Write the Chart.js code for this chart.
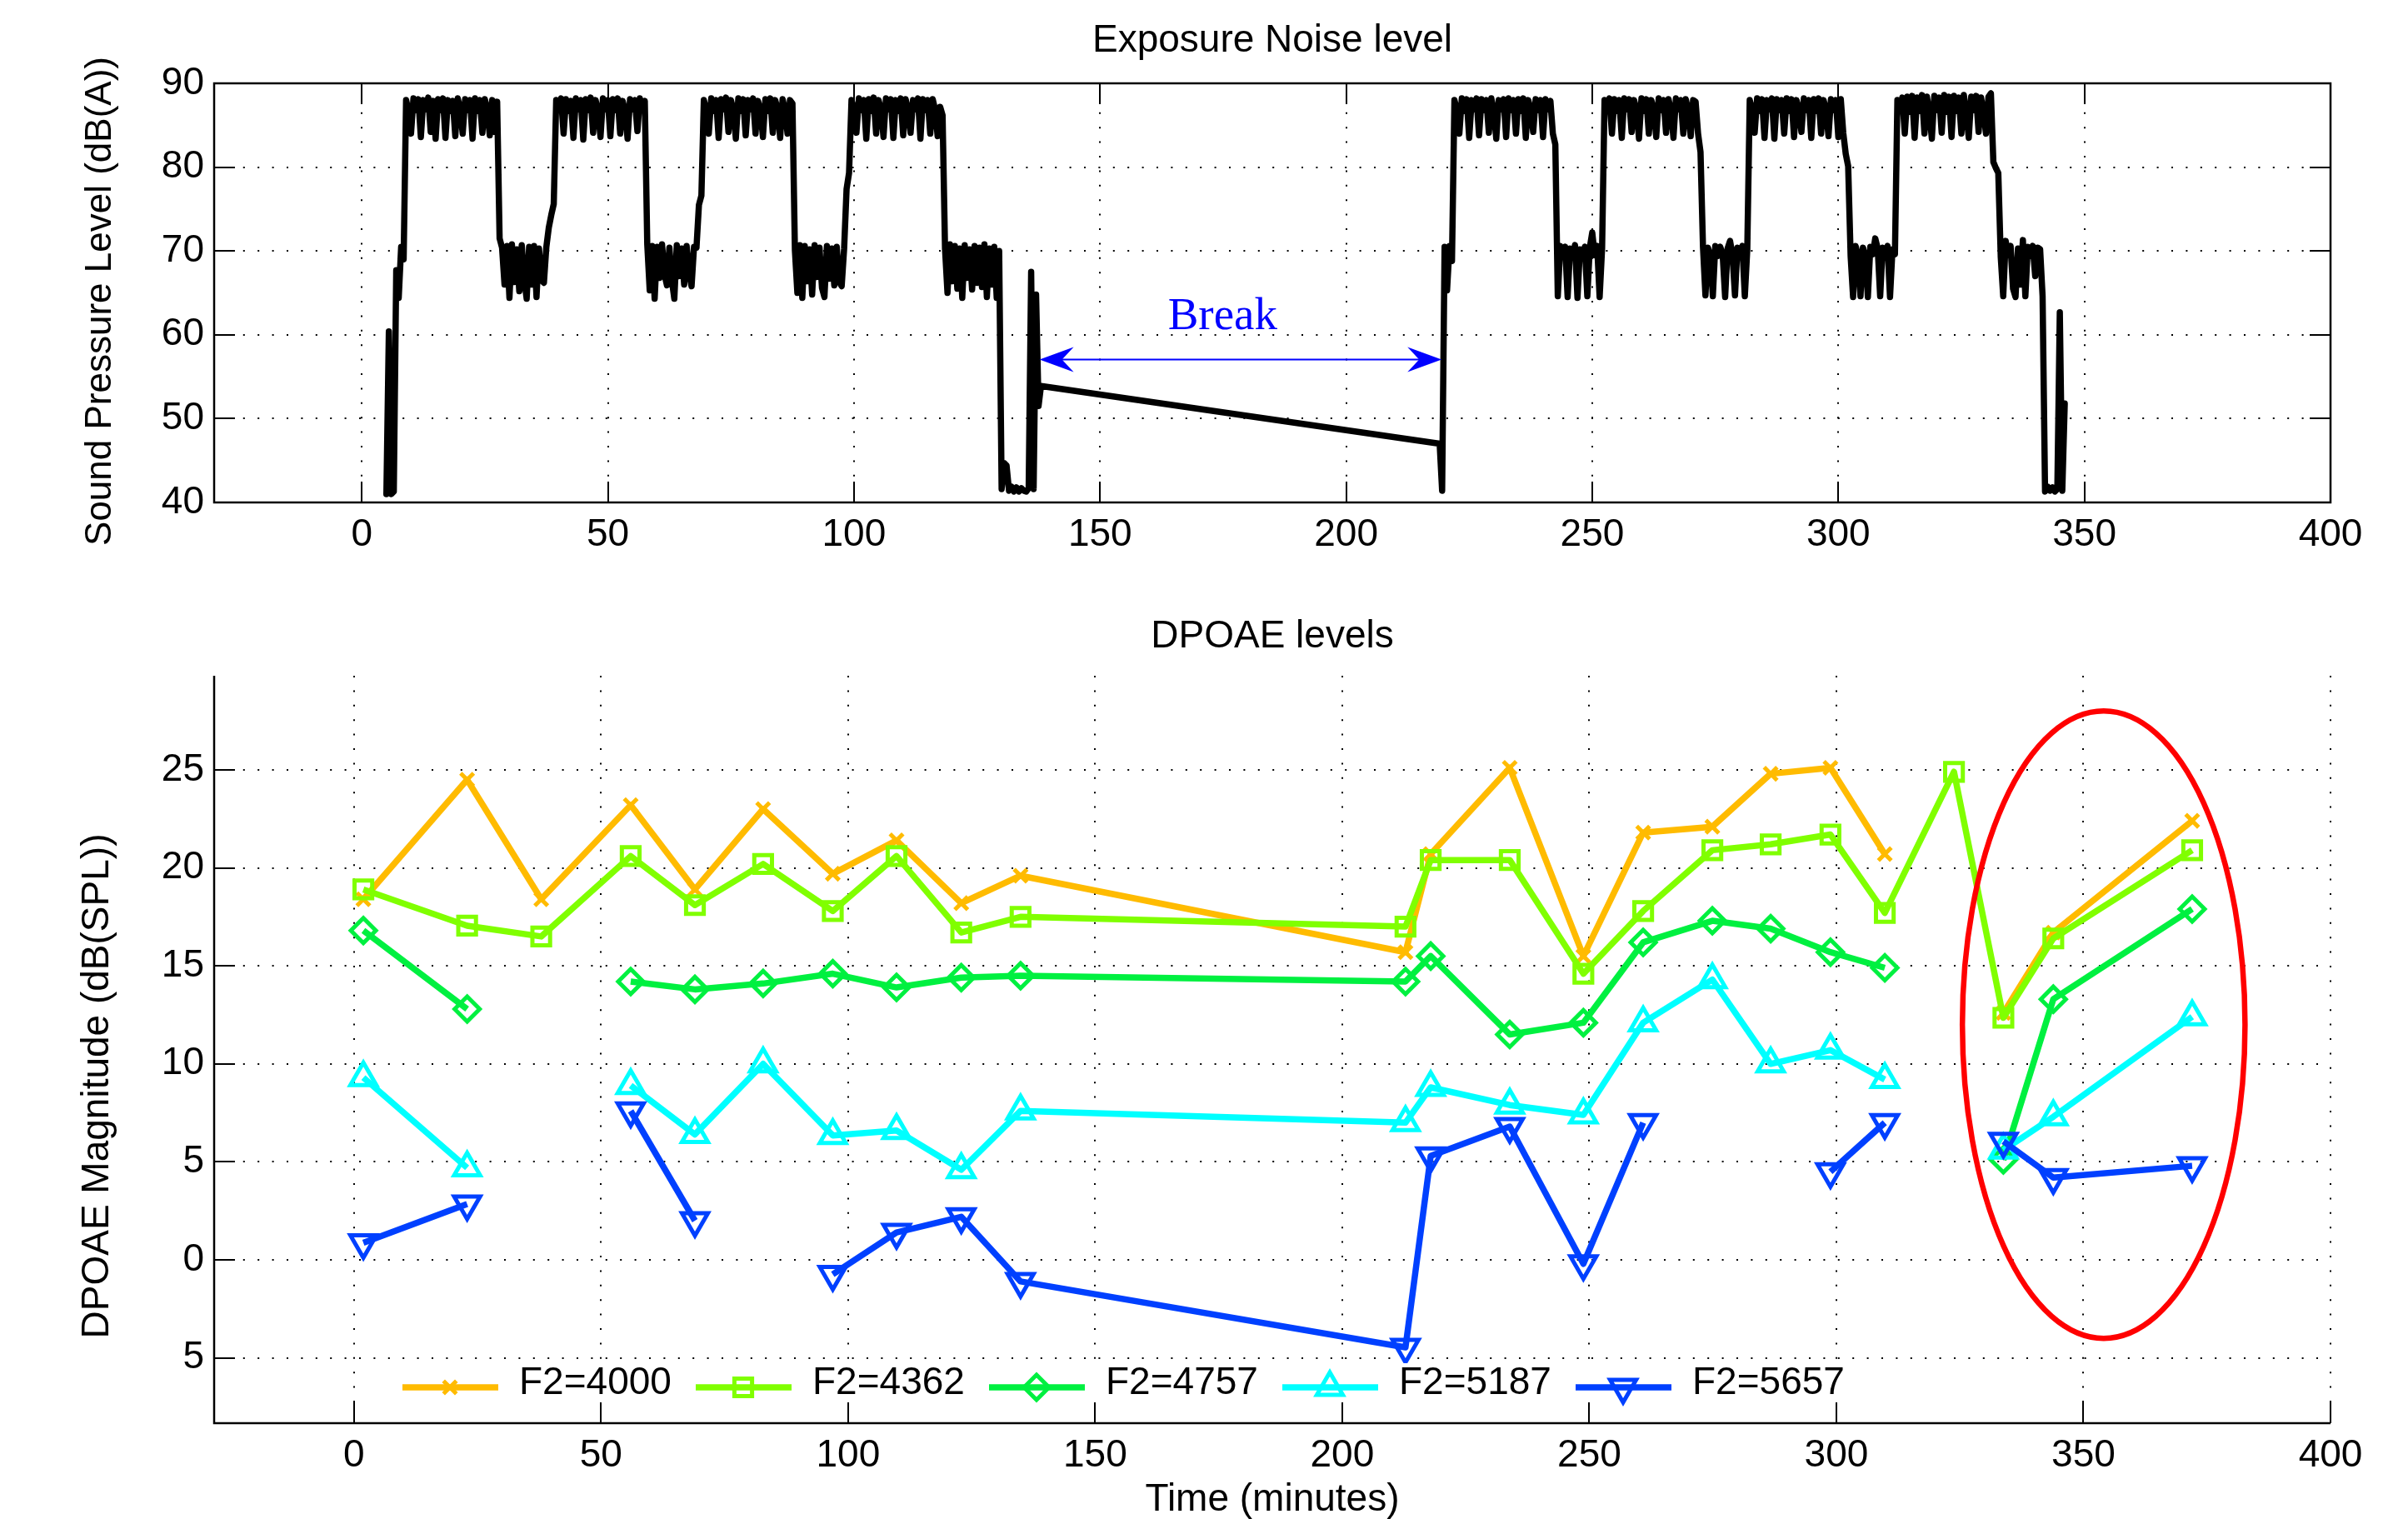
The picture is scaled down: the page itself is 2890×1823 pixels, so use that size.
<!DOCTYPE html>
<html>
<head>
<meta charset="utf-8">
<script src="https://cdn.jsdelivr.net/npm/chart.js@4.4.1/dist/chart.umd.min.js"></script>
<style>
  html, body { margin: 0; padding: 0; background: #fff; }
  #wrap { position: relative; width: 2890px; height: 1823px; }
  canvas { position: absolute; left: 0; }
</style>
</head>
<body>
<div id="wrap">
  <canvas id="noiseChart" width="2890" height="700" style="top:0"></canvas>
  <canvas id="dpoaeChart" width="2890" height="1123" style="top:700px"></canvas>
</div>
<script>
// exposure meter, one reading every half minute
const sampleStep = 0.5
const session1Start = 5.0
const session1 = [
  41.0, 60.4, 41.0, 41.3, 67.7, 64.4, 70.5, 69.0, 88.0, 86.7,
  84.0, 88.2, 86.8, 88.1, 83.6, 88.0, 86.9, 88.3, 84.2, 87.9,
  83.4, 88.1, 86.8, 88.2, 83.5, 88.0, 86.7, 87.9, 83.7, 88.2,
  86.9, 84.0, 88.1, 86.8, 88.0, 83.4, 88.2, 86.7, 88.0, 84.1,
  88.1, 86.9, 83.8, 88.0, 84.2, 87.8, 71.5, 70.4, 66.0, 70.6,
  64.4, 70.8, 66.3, 70.2, 65.2, 70.7, 66.6, 64.3, 70.5, 66.0,
  70.6, 64.5, 70.3, 66.5, 66.2, 70.5, 72.8, 74.3, 75.6, 88.0,
  86.8, 88.2, 84.0, 88.1, 86.7, 87.9, 83.5, 88.2, 86.9, 88.0,
  83.3, 88.1, 86.8, 88.3, 84.1, 88.0, 86.7, 83.6, 88.2, 86.9,
  88.0, 83.7, 88.1, 86.8, 88.2, 84.0, 87.9, 86.7, 83.4, 88.1,
  86.9, 88.0, 84.3, 88.2, 86.8, 87.9, 70.8, 65.3, 70.6, 64.3,
  70.5, 66.8, 70.8, 67.2, 65.9, 70.4, 66.5, 64.3, 70.7, 67.0,
  70.3, 66.0, 70.6, 67.4, 65.8, 70.5, 70.4, 75.5, 76.6, 88.0,
  86.8, 84.0, 88.2, 86.7, 88.0, 83.5, 88.1, 86.9, 88.3, 84.2,
  88.0, 86.8, 83.4, 88.2, 86.7, 88.1, 83.8, 88.0, 86.9, 88.2,
  84.0, 87.9, 86.8, 83.6, 88.1, 86.7, 88.2, 84.1, 88.0, 86.9,
  83.5, 88.1, 86.8, 84.0, 88.0, 87.6, 70.1, 65.0, 70.7, 64.4,
  70.6, 66.4, 70.2, 64.8, 70.7, 66.9, 70.4, 65.6, 64.5, 70.6,
  66.7, 70.3, 65.9, 70.5, 66.3, 65.8, 70.3, 77.4, 79.3, 88.0,
  86.9, 84.1, 88.2, 86.8, 88.0, 83.4, 88.1, 86.7, 88.3, 84.0,
  88.0, 86.8, 83.6, 88.2, 86.9, 88.1, 83.5, 88.0, 86.7, 88.2,
  83.8, 88.1, 86.8, 84.1, 88.0, 86.9, 88.2, 83.4, 88.1, 86.8,
  88.0, 84.0, 88.1, 86.8, 83.7, 87.2, 86.2, 70.3, 65.0, 70.8,
  66.4, 70.6, 65.5, 70.3, 64.4, 70.7, 66.8, 70.2, 65.4, 70.6,
  66.2, 70.4, 65.7, 70.8, 64.5, 70.3, 66.0, 70.5, 64.4, 70.0,
  41.6, 44.7, 44.4, 41.4, 41.9, 41.3, 41.8, 41.3, 41.7, 41.4,
  41.3, 41.7, 67.5, 41.6, 64.8, 51.5, 53.9
]
const session2Start = 219.0
const session2 = [
  47.0, 41.4, 70.5, 65.3, 70.6, 68.8, 88.0, 86.8, 84.0, 88.2,
  86.7, 88.1, 83.5, 88.0, 86.9, 88.2, 83.8, 88.1, 86.8, 88.0,
  84.1, 88.2, 86.7, 83.4, 88.0, 86.9, 88.1, 83.6, 88.2, 86.8,
  88.0, 84.0, 88.1, 86.7, 88.2, 83.5, 88.0, 86.9, 84.2, 88.1,
  86.8, 88.0, 83.6, 88.1, 86.9, 87.9, 84.0, 82.7, 64.6, 70.6,
  69.4, 70.5, 64.5, 70.3, 69.5, 70.7, 64.4, 70.2, 69.6, 70.5,
  64.6, 70.4, 72.2, 69.5, 70.6, 64.5, 70.3, 88.0, 86.8, 88.2,
  84.0, 88.1, 86.7, 88.0, 83.5, 88.2, 86.9, 88.1, 84.2, 88.0,
  86.8, 83.4, 88.2, 86.7, 88.1, 84.0, 88.0, 86.9, 83.6, 88.2,
  86.8, 88.0, 84.1, 88.1, 86.7, 83.5, 88.2, 86.9, 88.0, 84.0,
  88.1, 86.8, 83.7, 88.0, 87.8, 84.0, 81.8, 70.5, 64.7, 70.4,
  69.5, 64.6, 70.6, 69.4, 70.5, 69.6, 64.5, 70.3, 71.2, 69.5,
  64.7, 70.4, 69.5, 70.6, 64.6, 70.2, 88.0, 86.8, 84.1, 88.2,
  86.7, 88.1, 83.5, 88.0, 86.9, 88.2, 83.4, 88.1, 86.8, 88.0,
  84.0, 88.2, 86.7, 88.1, 83.6, 88.0, 86.9, 84.2, 88.2, 86.8,
  88.0, 83.5, 88.1, 86.7, 88.2, 84.0, 88.0, 86.9, 83.7, 88.1,
  86.8, 88.0, 83.6, 88.1, 84.1, 81.6, 80.1, 69.4, 64.5, 70.6,
  69.5, 64.6, 70.4, 69.4, 64.5, 70.5, 69.6, 71.5, 70.3, 64.6,
  70.4, 69.5, 70.6, 64.5, 70.2, 69.6, 88.0, 86.8, 88.3, 84.0,
  88.4, 86.6, 88.5, 83.5, 88.3, 86.7, 88.6, 84.0, 88.4, 86.5,
  83.4, 88.5, 86.8, 88.3, 84.1, 88.6, 86.6, 88.4, 83.6, 88.5,
  86.7, 88.3, 84.0, 88.6, 86.5, 83.5, 88.4, 86.8, 88.5, 84.2,
  88.3, 86.6, 84.0, 88.4, 88.8, 80.6, 79.9, 79.3, 69.3, 64.6,
  71.2, 69.5, 70.6, 65.5, 64.5, 70.3, 66.0, 71.3, 64.6, 70.5,
  69.4, 70.6, 67.0, 70.4, 70.2, 64.6, 41.3, 41.9, 41.4, 41.8,
  41.3, 41.6, 62.7, 41.4, 51.8
]
const noiseXTicks = [0, 50, 100, 150, 200, 250, 300, 350, 400]
const noiseYTicks = [40, 50, 60, 70, 80, 90]

// "Break" annotation (minutes / dB)
const breakFrom = 137.7
const breakTo = 219.4
const breakLevel = 57.05
const breakLabelAt = [174.9, 60.7]

// DPOAE measurements
const times = [1.9, 22.9, 37.9, 56.0, 69.0, 82.8, 96.9, 109.8, 122.9, 134.9, 212.8, 217.9, 233.9, 248.8, 260.9, 274.9, 286.7, 298.8, 309.8, 323.8, 333.8, 343.9, 372.0]
const f4000 = [18.4, 24.5, 18.4, 23.2, 18.9, 23.0, 19.7, 21.4, 18.2, 19.6, 15.7, 20.7, 25.1, 15.5, 21.8, 22.1, 24.8, 25.1, 20.7, null, 12.6, 16.7, 22.4]
const f4362 = [18.9, 17.05, 16.5, 20.6, 18.1, 20.2, 17.8, 20.6, 16.7, 17.5, 17.0, 20.4, 20.4, 14.6, 17.8, 20.9, 21.2, 21.7, 17.7, 24.9, 12.35, 16.4, 20.9]
const f4757 = [16.8, 12.8, null, 14.2, 13.8, 14.1, 14.6, 13.9, 14.4, 14.5, 14.2, 15.5, 11.5, 12.1, 16.2, 17.3, 16.9, 15.7, 14.9, null, 5.1, 13.3, 17.9]
const f5187 = [9.3, 4.7, null, 8.9, 6.4, 10.0, 6.35, 6.6, 4.6, 7.6, 7.0, 8.8, 7.9, 7.4, 12.1, 14.3, 10.0, 10.7, 9.2, null, 5.6, 7.3, 12.4]
const f5657 = [0.87, 2.85, null, 7.6, 2.0, null, -0.74, 1.4, 2.2, -1.1, -4.46, 5.3, 6.8, -0.2, 7.0, null, null, 4.5, 7.0, null, 6.05, 4.2, 4.8]
const dpoaeXTicks = [0, 50, 100, 150, 200, 250, 300, 350, 400]
const dpoaeYTicks = [-5, 0, 5, 10, 15, 20, 25]
const dpoaeYLabels = ['5', '0', '5', '10', '15', '20', '25']

// circled region (centre minutes, centre dB, half width, half height)
const circled = [354.1, 12.0, 28.6, 16.0]

const FONT = '"Liberation Sans", Arial, Helvetica, sans-serif'
Chart.defaults.font.family = FONT
Chart.defaults.font.size = 46
Chart.defaults.color = '#000'

const toPoints = (xs, ys) => ys.map((v, i) => ({x: xs[i], y: v}))
const exposurePoints = session1.map((v, i) => ({x: session1Start + i * sampleStep, y: v}))
  .concat(session2.map((v, i) => ({x: session2Start + i * sampleStep, y: v})))

// inward ticks + axis lines, matlab style
const frame = {
  id: 'frame',
  beforeDatasetsDraw(chart, args, o) {
    const {ctx, chartArea: a, scales: {x, y}} = chart
    ctx.save()
    ctx.strokeStyle = '#000'
    ctx.lineWidth = 2
    ctx.beginPath()
    x.ticks.forEach(t => {
      const px = Math.round(x.getPixelForValue(t.value))
      ctx.moveTo(px, a.bottom); ctx.lineTo(px, a.bottom - o.tick)
      if (o.box) { ctx.moveTo(px, a.top); ctx.lineTo(px, a.top + o.tick) }
    })
    y.ticks.forEach(t => {
      const py = Math.round(y.getPixelForValue(t.value))
      ctx.moveTo(a.left, py); ctx.lineTo(a.left + o.tick, py)
      if (o.box) { ctx.moveTo(a.right, py); ctx.lineTo(a.right - o.tick, py) }
    })
    ctx.stroke()
    ctx.lineWidth = 2.5
    ctx.beginPath()
    if (o.box) {
      ctx.rect(a.left, a.top, a.right - a.left, a.bottom - a.top)
    } else {
      ctx.moveTo(a.left, a.top); ctx.lineTo(a.left, a.bottom); ctx.lineTo(a.right, a.bottom)
    }
    ctx.stroke()
    ctx.restore()
  }
}

const captions = {
  id: 'captions',
  afterDraw(chart, args, o) {
    const {ctx, chartArea: a} = chart
    const cx = (a.left + a.right) / 2
    ctx.save()
    ctx.fillStyle = '#000'
    ctx.textAlign = 'center'
    ctx.textBaseline = 'alphabetic'
    ctx.font = '46px ' + FONT
    ctx.fillText(o.title, cx, a.top - o.titleGap)
    if (o.xTitle) ctx.fillText(o.xTitle, cx, a.bottom + o.xTitleGap)
    ctx.font = o.ySize + 'px ' + FONT
    ctx.translate(a.left - o.yTitleGap, (a.top + a.bottom) / 2 + o.yTitleShift)
    ctx.rotate(-Math.PI / 2)
    ctx.fillText(o.yTitle, 0, 0)
    ctx.restore()
  }
}

const breakMark = {
  id: 'breakMark',
  afterDatasetsDraw(chart) {
    const {ctx, scales: {x, y}} = chart
    const x1 = x.getPixelForValue(breakFrom)
    const x2 = x.getPixelForValue(breakTo)
    const py = y.getPixelForValue(breakLevel)
    ctx.save()
    ctx.strokeStyle = '#0000ff'
    ctx.fillStyle = '#0000ff'
    ctx.lineWidth = 2
    ctx.beginPath(); ctx.moveTo(x1 + 20, py); ctx.lineTo(x2 - 20, py); ctx.stroke()
    const head = (tip, dir) => {
      ctx.beginPath()
      ctx.moveTo(tip, py)
      ctx.lineTo(tip + dir * 41, py - 15)
      ctx.lineTo(tip + dir * 27, py)
      ctx.lineTo(tip + dir * 41, py + 15)
      ctx.closePath()
      ctx.fill()
    }
    head(x1, 1)
    head(x2, -1)
    ctx.font = '55px "Liberation Serif", "Times New Roman", serif'
    ctx.textAlign = 'center'
    ctx.textBaseline = 'alphabetic'
    ctx.fillText('Break', x.getPixelForValue(breakLabelAt[0]), y.getPixelForValue(breakLabelAt[1]))
    ctx.restore()
  }
}

const ellipseMark = {
  id: 'ellipseMark',
  afterDatasetsDraw(chart) {
    const {ctx, scales: {x, y}} = chart
    const cx = x.getPixelForValue(circled[0]), cy = y.getPixelForValue(circled[1])
    const rx = x.getPixelForValue(circled[0] + circled[2]) - cx
    const ry = cy - y.getPixelForValue(circled[1] + circled[3])
    ctx.save()
    ctx.strokeStyle = '#ff0000'
    ctx.lineWidth = 6.5
    ctx.beginPath()
    ctx.ellipse(cx, cy, rx, ry, 0, 0, Math.PI * 2)
    ctx.stroke()
    ctx.restore()
  }
}

const legendRow = {
  id: 'legendRow',
  afterDatasetsDraw(chart) {
    const {ctx, chartArea: a} = chart
    const ly = a.bottom - 43
    ctx.save()
    ctx.fillStyle = '#fff'
    ctx.fillRect(a.left + 213, a.bottom - 72, 1760, 47)
    ctx.font = '46px ' + FONT
    ctx.textBaseline = 'middle'
    chart.data.datasets.forEach((ds, i) => {
      const x0 = a.left + 226 + i * 352
      ctx.strokeStyle = ds.borderColor
      ctx.lineWidth = ds.borderWidth
      ctx.beginPath(); ctx.moveTo(x0, ly); ctx.lineTo(x0 + 115, ly); ctx.stroke()
      ctx.lineWidth = ds.pointBorderWidth
      ctx.fillStyle = 'rgba(0,0,0,0)'
      Chart.helpers.drawPoint(ctx, {pointStyle: ds.pointStyle, radius: ds.pointRadius,
        rotation: ds.pointRotation || 0, borderWidth: ds.pointBorderWidth}, x0 + 57, ly)
      ctx.fillStyle = '#000'
      ctx.fillText(ds.label, x0 + 140, ly - 5)
    })
    ctx.restore()
  }
}

const dotted = {
  grid: { color: '#000', lineWidth: 2, drawTicks: false },
  border: { display: false, dash: [2, 15.4] }
}

new Chart(document.getElementById('noiseChart'), {
  type: 'line',
  data: {
    datasets: [{
      data: exposurePoints,
      borderColor: '#000',
      borderWidth: 7.5,
      pointRadius: 0,
      tension: 0,
      borderJoinStyle: 'round',
      borderCapStyle: 'round'
    }]
  },
  options: {
    responsive: false, animation: false, devicePixelRatio: 1, events: [],
    layout: { padding: { top: 100, right: 93, left: 0, bottom: 0 } },
    plugins: {
      legend: { display: false }, tooltip: { enabled: false },
      frame: { box: true, tick: 25 },
      captions: { title: 'Exposure Noise level', titleGap: 38,
        yTitle: 'Sound Pressure Level (dB(A))', ySize: 44, yTitleGap: 124, yTitleShift: 10 }
    },
    scales: {
      x: {
        type: 'linear', min: -30, max: 400,
        afterBuildTicks: s => { s.ticks = noiseXTicks.map(v => ({value: v})) },
        afterFit: s => { s.height = 97 },
        ticks: { padding: 12, maxRotation: 0 },
        ...dotted
      },
      y: {
        type: 'linear', min: 40, max: 90,
        afterBuildTicks: s => { s.ticks = noiseYTicks.map(v => ({value: v})) },
        afterFit: s => { s.width = 257 },
        ticks: { padding: 12 },
        ...dotted
      }
    }
  },
  plugins: [frame, captions, breakMark]
})

const series = (label, values, color, style, radius, rotation) => ({
  label, data: toPoints(times, values),
  borderColor: color, borderWidth: 7.5, tension: 0,
  pointStyle: style, pointRadius: radius, pointRotation: rotation || 0,
  pointBorderColor: color, pointBackgroundColor: 'rgba(0,0,0,0)', pointBorderWidth: 5,
  borderJoinStyle: 'round'
})

new Chart(document.getElementById('dpoaeChart'), {
  type: 'line',
  data: {
    datasets: [
      {...series('F2=4000', f4000, '#ffbb00', 'crossRot', 11), order: 5},
      {...series('F2=4362', f4362, '#80ff00', 'rect', 15), order: 4},
      {...series('F2=4757', f4757, '#00f040', 'rectRot', 15), order: 3},
      {...series('F2=5187', f5187, '#00ffff', 'triangle', 18), order: 2},
      {...series('F2=5657', f5657, '#0040ff', 'triangle', 18, 180), order: 1}
    ]
  },
  options: {
    responsive: false, animation: false, devicePixelRatio: 1, events: [],
    layout: { padding: { top: 111, right: 93, left: 0, bottom: 0 } },
    plugins: {
      legend: { display: false }, tooltip: { enabled: false },
      frame: { box: false, tick: 25 },
      captions: { title: 'DPOAE levels', titleGap: 34, xTitle: 'Time (minutes)', xTitleGap: 105,
        yTitle: 'DPOAE Magnitude (dB(SPL))', ySize: 46, yTitleGap: 127, yTitleShift: 44 }
    },
    scales: {
      x: {
        type: 'linear', min: -28.3, max: 400,
        afterBuildTicks: s => { s.ticks = dpoaeXTicks.map(v => ({value: v})) },
        afterFit: s => { s.height = 115 },
        ticks: { padding: 12, maxRotation: 0 },
        ...dotted
      },
      y: {
        type: 'linear', min: -8.33, max: 29.8,
        afterBuildTicks: s => { s.ticks = dpoaeYTicks.map(v => ({value: v})) },
        afterFit: s => { s.width = 257 },
        ticks: { padding: 12, callback: (v, i) => dpoaeYLabels[i] },
        ...dotted
      }
    }
  },
  plugins: [frame, captions, ellipseMark, legendRow]
})
</script>
</body>
</html>
